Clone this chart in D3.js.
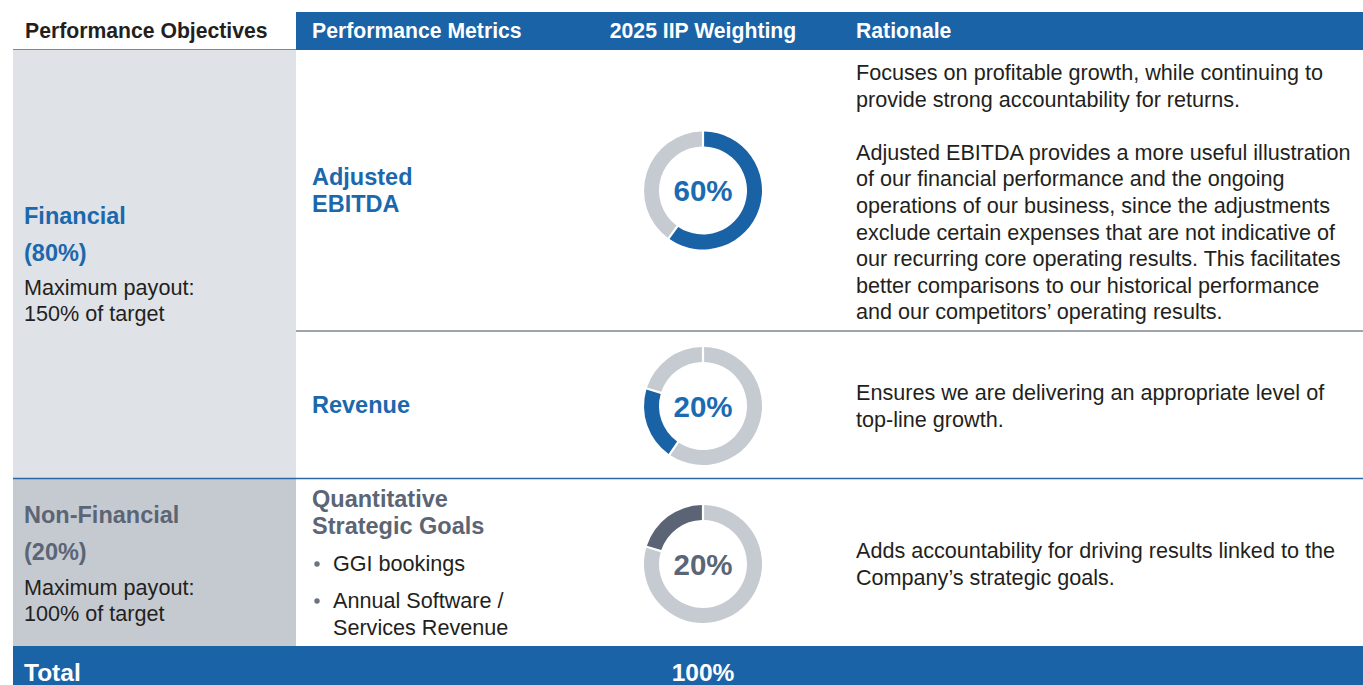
<!DOCTYPE html>
<html><head><meta charset="utf-8">
<script src="https://cdn.jsdelivr.net/npm/d3@7"></script>
<style>html,body{margin:0;padding:0;background:#fff;overflow:hidden}svg{display:block}text{font-family:"Liberation Sans",Arial,sans-serif}</style>
</head><body>
<svg id="c" width="1363" height="685"></svg>
<script>
const headers = ["Performance Objectives","Performance Metrics","2025 IIP Weighting","Rationale"];
const objectives = ["Financial","Non-Financial"];
const objectiveWeights = ["(80%)","(20%)"];
const maxPayouts = ["150% of target","100% of target"];
const metrics = [["Adjusted","EBITDA"],["Revenue"],["Quantitative","Strategic Goals"]];
const metricGroup = [0,0,1];
const weights = [60,20,20];
const subItems = [["GGI bookings"],["Annual Software /","Services Revenue"]];
const rationales = [
 ["Focuses on profitable growth, while continuing to","provide strong accountability for returns.","","Adjusted EBITDA provides a more useful illustration","of our financial performance and the ongoing","operations of our business, since the adjustments","exclude certain expenses that are not indicative of","our recurring core operating results. This facilitates","better comparisons to our historical performance","and our competitors’ operating results."],
 ["Ensures we are delivering an appropriate level of","top-line growth."],
 ["Adds accountability for driving results linked to the","Company’s strategic goals."]
];
const totalLabel = "Total";
const totalValue = "100%";

const svg = d3.select("#c");
const BLUE="#1a63a7", DARK="#231f20", GRAY_TXT="#5b6575", LGRAY="#c6cbd2";
const FS_BODY=21.6, FS_BOLD=23.5, FS_HEAD=21.2;
const cols = [13,296,610,840,1363];
const rowY = [12,50,331,478,646,685];

// header
svg.append("rect").attr("x",cols[1]).attr("y",rowY[0]).attr("width",1363-cols[1]).attr("height",rowY[1]-rowY[0]).attr("fill",BLUE);
svg.append("line").attr("x1",cols[0]).attr("x2",cols[1]).attr("y1",49.5).attr("y2",49.5).attr("stroke","#5e8fc3").attr("stroke-width",1.2);
const hx=[25,312,703,856];
headers.forEach((h,i)=>{
  svg.append("text").attr("x",hx[i]).attr("y",37.5).attr("text-anchor",i===2?"middle":"start")
   .attr("font-size",FS_HEAD).attr("font-weight","bold").attr("fill",i===0?DARK:"#fff").text(h);
});
// left column backgrounds
svg.append("rect").attr("x",cols[0]).attr("y",rowY[1]).attr("width",cols[1]-cols[0]).attr("height",rowY[3]-rowY[1]).attr("fill","#dfe2e7");
svg.append("rect").attr("x",cols[0]).attr("y",rowY[3]).attr("width",cols[1]-cols[0]).attr("height",rowY[4]-rowY[3]).attr("fill","#c5cad1");
// separators
svg.append("line").attr("x1",cols[1]).attr("x2",1363).attr("y1",331).attr("y2",331).attr("stroke","#7f8791").attr("stroke-width",1.5);
svg.append("line").attr("x1",cols[0]).attr("x2",1363).attr("y1",478.5).attr("y2",478.5).attr("stroke","#2b68a8").attr("stroke-width",1.5);
// total row
svg.append("rect").attr("x",cols[0]).attr("y",rowY[4]).attr("width",1363-cols[0]).attr("height",rowY[5]-rowY[4]).attr("fill",BLUE);
svg.append("text").attr("x",24).attr("y",680.5).attr("font-size",24.5).attr("font-weight","bold").attr("fill","#fff").text(totalLabel);
svg.append("text").attr("x",703).attr("y",680.5).attr("text-anchor","middle").attr("font-size",24.5).attr("font-weight","bold").attr("fill","#fff").text(totalValue);

// objectives
const objY=[[224,261,295,321],[523,560,595,621]];
objectives.forEach((o,i)=>{
  const col = i===0?"#1b68ad":GRAY_TXT;
  const y=objY[i];
  svg.append("text").attr("x",24).attr("y",y[0]).attr("font-size",FS_BOLD).attr("font-weight","bold").attr("fill",col).text(o);
  svg.append("text").attr("x",24).attr("y",y[1]).attr("font-size",FS_BOLD).attr("font-weight","bold").attr("fill",col).text(objectiveWeights[i]);
  svg.append("text").attr("x",24).attr("y",y[2]).attr("font-size",FS_BODY).attr("fill",DARK).text("Maximum payout:");
  svg.append("text").attr("x",24).attr("y",y[3]).attr("font-size",FS_BODY).attr("fill",DARK).text(maxPayouts[i]);
});

// metrics
const metY=[[185,212],[413],[507,534]];
metrics.forEach((m,i)=>{
  const col = metricGroup[i]===0?"#1b68ad":GRAY_TXT;
  m.forEach((line,j)=>{
    svg.append("text").attr("x",312).attr("y",metY[i][j]).attr("font-size",FS_BOLD).attr("font-weight","bold").attr("fill",col).text(line);
  });
});
// sub-items
const subY=[[571],[608,635]];
subItems.forEach((s,i)=>{
  svg.append("circle").attr("cx",317).attr("cy",subY[i][0]-7).attr("r",2.7).attr("fill","#6b7380");
  s.forEach((line,j)=>{
    svg.append("text").attr("x",333).attr("y",subY[i][j]).attr("font-size",FS_BODY).attr("fill",DARK).text(line);
  });
});

// donuts
const cy=[190.5,406,564];
const total=d3.sum(weights);
const pie=d3.pie().sort(null).value(d=>d.v).padAngle(0.03);
const arc=d3.arc().innerRadius(44).outerRadius(59);
weights.forEach((w,i)=>{
  const before=d3.sum(weights.slice(0,i)), after=total-before-w;
  const data=[{v:before,h:false},{v:w,h:true},{v:after,h:false}].filter(d=>d.v>0);
  const g=svg.append("g").attr("transform",`translate(703,${cy[i]})`);
  const hcol = metricGroup[i]===0?"#1a62a6":"#5a6474";
  g.selectAll("path").data(pie(data)).join("path").attr("d",arc).attr("fill",d=>d.data.h?hcol:LGRAY);
  g.append("text").attr("y",10.5).attr("text-anchor","middle").attr("font-size",29.5).attr("font-weight","bold")
   .attr("fill",metricGroup[i]===0?"#1b6bb0":"#5b6575").text(w+"%");
});

// rationales
const ratY=[80,400,558];
rationales.forEach((r,i)=>{
  r.forEach((line,j)=>{
    svg.append("text").attr("x",856).attr("y",ratY[i]+j*26.6).attr("font-size",FS_BODY).attr("fill",DARK).text(line);
  });
});
</script>
</body></html>
